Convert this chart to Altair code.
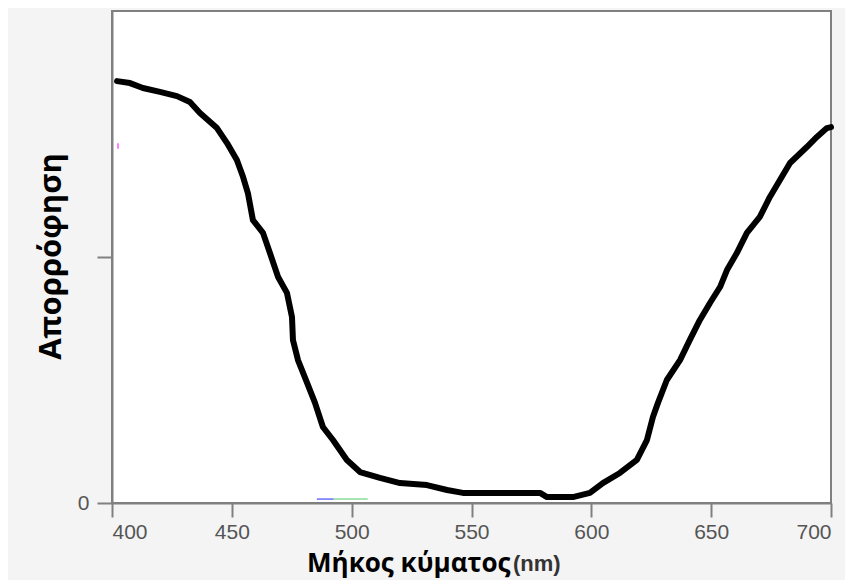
import altair as alt
import pandas as pd

# Absorption spectrum
wavelength = [402.1, 407.5, 412.9, 420.0, 427.1, 432.5, 436.7, 443.8, 448.0, 452.1,
              454.7, 456.7, 458.8, 463.0, 465.9, 469.3, 473.0, 475.1, 475.5, 477.6,
              481.4, 484.7, 488.0, 492.2, 498.0, 503.5, 511.8, 520.2, 531.4, 539.8,
              546.4, 578.6, 581.5, 592.3, 599.4, 604.8, 611.9, 619.0, 623.2, 625.7,
              627.8, 631.5, 637.0, 641.1, 645.3, 649.5, 653.7, 656.6, 660.7, 664.9,
              670.3, 674.5, 678.7, 682.9, 689.9, 694.1, 698.3, 700.0]
absorbance = [1.715, 1.707, 1.687, 1.671, 1.654, 1.630, 1.585, 1.524, 1.463, 1.394,
              1.325, 1.260, 1.150, 1.098, 1.016, 0.919, 0.854, 0.756, 0.663, 0.581,
              0.488, 0.407, 0.309, 0.256, 0.175, 0.126, 0.102, 0.081, 0.073, 0.053,
              0.041, 0.041, 0.024, 0.024, 0.041, 0.081, 0.122, 0.175, 0.256, 0.350,
              0.407, 0.500, 0.581, 0.663, 0.744, 0.813, 0.878, 0.947, 1.016, 1.098,
              1.163, 1.244, 1.313, 1.382, 1.447, 1.488, 1.524, 1.528]

# small coloured marks left over in the picture
mark_x = [485.5, 492.5, 402.5]
mark_x2 = [492.5, 506.7, 402.5]
mark_y = [0.016, 0.016, 1.440]
mark_y2 = [0.016, 0.016, 1.462]
mark_color = ["#6b6bff", "#86dd98", "#ff55ff"]

x_ticks = [400, 450, 500, 550, 600, 650, 700]
y_ticks = [0, 1]

df = pd.DataFrame({"wl": wavelength, "A": absorbance})
marks_df = pd.DataFrame({"x": mark_x, "x2": mark_x2, "y": mark_y, "y2": mark_y2, "c": mark_color})

x_scale = alt.Scale(domain=[400, 700], nice=False, zero=False)
y_scale = alt.Scale(domain=[0, 2], nice=False)

line = alt.Chart(df).mark_line(
    color="black", strokeWidth=6, strokeJoin="round", strokeCap="round"
).encode(
    x=alt.X("wl:Q", scale=x_scale, axis=alt.Axis(
        values=x_ticks, title="Μήκος κύματος", titleFont="Open Sans",
        titleFontSize=26, titleFontWeight="bold", titleColor="#000000",
        titleX=398, titleY=68, titleAlign="right", titleBaseline="alphabetic",
        labelFont="Liberation Sans", labelFontSize=21, labelColor="#555555",
        labelPadding=4, tickSize=14, grid=False)),
    y=alt.Y("A:Q", scale=y_scale, axis=alt.Axis(
        values=y_ticks, labelExpr="datum.value == 0 ? '0' : ''",
        title="Απορρόφηση", titleFont="Open Sans", titleFontSize=31,
        titleFontWeight="bold", titleColor="#000000", titleAngle=270,
        titleX=-61, titleY=245, titleAlign="center", titleBaseline="middle",
        labelFont="Liberation Sans", labelFontSize=21, labelColor="#555555",
        labelPadding=8, tickSize=15, grid=False)),
)

extras = alt.Chart(marks_df).mark_rule(strokeWidth=1.5).encode(
    x=alt.X("x:Q", scale=x_scale),
    x2="x2:Q",
    y=alt.Y("y:Q", scale=y_scale),
    y2="y2:Q",
    color=alt.Color("c:N", scale=None),
)

unit = alt.Chart(pd.DataFrame({"t": ["(nm)"]})).mark_text(
    font="Liberation Sans", fontSize=22, fontWeight="bold", color="#333333",
    align="left", baseline="alphabetic"
).encode(text="t:N", x=alt.value(401), y=alt.value(560))

chart = alt.layer(extras, line, unit).properties(
    width=719, height=492,
    autosize=alt.AutoSizeParams(type="none"),
    padding={"left": 104, "top": 3, "right": 14, "bottom": 77},
    background="#f4f4f4",
).configure_view(
    fill="white", stroke="#808080", strokeWidth=2
).configure_axis(
    domainColor="#808080", domainWidth=2, tickColor="#808080", tickWidth=2
)

chart.save("out.html", embed_options={"renderer": "svg", "actions": False})
